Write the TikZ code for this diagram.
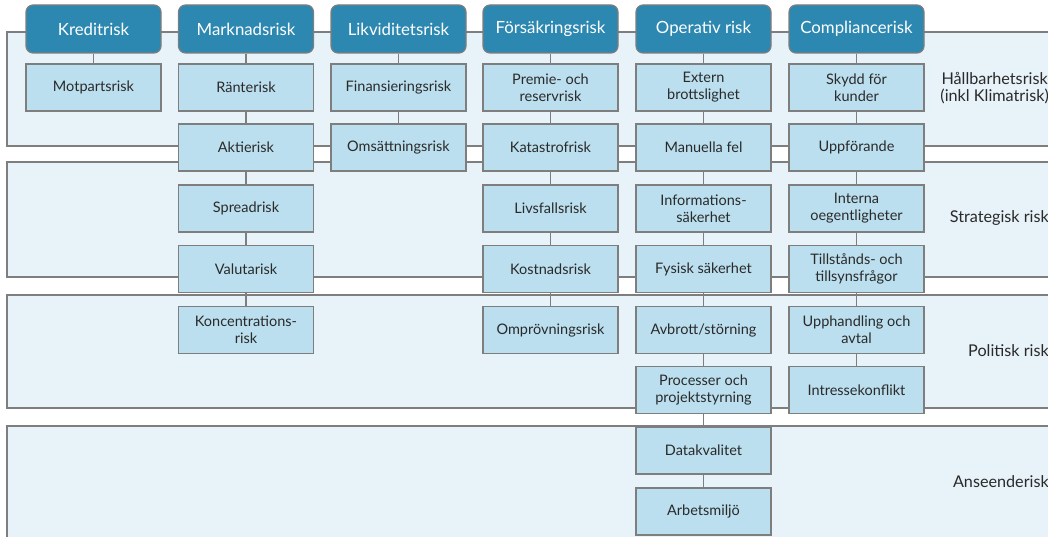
\documentclass[tikz,border=0pt]{standalone}
\usepackage{fontspec}
\setmainfont{Lato}
\definecolor{hdrfill}{HTML}{2C88B0}
\definecolor{boxfill}{HTML}{BBDFEE}
\definecolor{bandfill}{HTML}{E7F2F9}
\definecolor{linegray}{HTML}{7E7E7E}
\definecolor{txt}{HTML}{2A2A2A}
\begin{document}
\begin{tikzpicture}[x=1pt,y=-1pt,
  band/.style={draw=linegray,line width=1.3pt,fill=bandfill},
  hdr/.style={draw=linegray,line width=1.2pt,fill=hdrfill,rounded corners=7pt,minimum width=135pt,minimum height=48pt,text=white,font=\fontsize{16.8}{19}\selectfont,inner sep=0pt},
  sub/.style={draw=linegray,line width=1.2pt,fill=boxfill,minimum width=135pt,minimum height=47pt,text=txt,font=\fontsize{14.5}{16.8}\selectfont,align=center,inner sep=0pt},
  conn/.style={draw=linegray,line width=1.3pt},
  side/.style={anchor=east,text=txt,font=\fontsize{16.2}{17.5}\selectfont,align=center,inner sep=0pt}]
\useasboundingbox (0,0) rectangle (1048,537);
\clip (0,0) rectangle (1048,537);
% bands
\draw[band] (7,32) rectangle (1070,146);
\draw[band] (7,162) rectangle (1070,277);
\draw[band] (7,295) rectangle (1070,408);
\draw[band] (7,426) rectangle (1070,570);
% headers line
\draw[conn] (7,32) -- (1070,32);
% headers
\node[hdr] (h1) at (93.5,29) {Kreditrisk};
\node[hdr] (h2) at (246,29) {Marknadsrisk};
\node[hdr] (h3) at (398.5,29) {Likviditetsrisk};
\node[hdr] (h4) at (550.5,29) {Försäkringsrisk};
\node[hdr] (h5) at (703.5,29) {Operativ risk};
\node[hdr] (h6) at (856.5,29) {Compliancerisk};
% column 1
\node[sub] (a1) at (93.5,87.5) {Motpartsrisk};
% column 2
\node[sub] (b1) at (246,87.5) {Ränterisk};
\node[sub] (b2) at (246,147.5) {Aktierisk};
\node[sub] (b3) at (246,208.5) {Spreadrisk};
\node[sub] (b4) at (246,269) {Valutarisk};
\node[sub] (b5) at (246,330) {Koncentrations-\\risk};
% column 3
\node[sub] (c1) at (398.5,87.5) {Finansieringsrisk};
\node[sub] (c2) at (398.5,147.5) {Omsättningsrisk};
% column 4
\node[sub] (d1) at (550.5,87.5) {Premie- och\\reservrisk};
\node[sub] (d2) at (550.5,147.5) {Katastrofrisk};
\node[sub] (d3) at (550.5,208.5) {Livsfallsrisk};
\node[sub] (d4) at (550.5,269) {Kostnadsrisk};
\node[sub] (d5) at (550.5,330) {Omprövningsrisk};
% column 5
\node[sub] (e1) at (703.5,87.5) {Extern\\brottslighet};
\node[sub] (e2) at (703.5,147.5) {Manuella fel};
\node[sub] (e3) at (703.5,208.5) {Informations-\\säkerhet};
\node[sub] (e4) at (703.5,269) {Fysisk säkerhet};
\node[sub] (e5) at (703.5,330) {Avbrott/störning};
\node[sub] (e6) at (703.5,390) {Processer och\\projektstyrning};
\node[sub] (e7) at (703.5,450.5) {Datakvalitet};
\node[sub] (e8) at (703.5,511.5) {Arbetsmiljö};
% column 6
\node[sub] (f1) at (856.5,87.5) {Skydd för\\kunder};
\node[sub] (f2) at (856.5,147.5) {Uppförande};
\node[sub] (f3) at (856.5,208.5) {Interna\\oegentligheter};
\node[sub] (f4) at (856.5,269) {Tillstånds- och\\tillsynsfrågor};
\node[sub] (f5) at (856.5,330) {Upphandling och\\avtal};
\node[sub] (f6) at (856.5,390) {Intressekonflikt};
% connectors
\draw[conn] (h1.south) -- (a1.north);
\draw[conn] (h2.south) -- (b1.north);
\draw[conn] (b1.south) -- (b2.north);
\draw[conn] (b2.south) -- (b3.north);
\draw[conn] (b3.south) -- (b4.north);
\draw[conn] (b4.south) -- (b5.north);
\draw[conn] (h3.south) -- (c1.north);
\draw[conn] (c1.south) -- (c2.north);
\draw[conn] (h4.south) -- (d1.north);
\draw[conn] (d1.south) -- (d2.north);
\draw[conn] (d2.south) -- (d3.north);
\draw[conn] (d3.south) -- (d4.north);
\draw[conn] (d4.south) -- (d5.north);
\draw[conn] (h5.south) -- (e1.north);
\draw[conn] (e1.south) -- (e2.north);
\draw[conn] (e2.south) -- (e3.north);
\draw[conn] (e3.south) -- (e4.north);
\draw[conn] (e4.south) -- (e5.north);
\draw[conn] (e5.south) -- (e6.north);
\draw[conn] (e6.south) -- (e7.north);
\draw[conn] (e7.south) -- (e8.north);
\draw[conn] (h6.south) -- (f1.north);
\draw[conn] (f1.south) -- (f2.north);
\draw[conn] (f2.south) -- (f3.north);
\draw[conn] (f3.south) -- (f4.north);
\draw[conn] (f4.south) -- (f5.north);
\draw[conn] (f5.south) -- (f6.north);
% side labels
\node[side] (l1) at (1049,88) {Hållbarhetsrisk\\(inkl Klimatrisk)};
\node[side] (l2) at (1049,218) {Strategisk risk};
\node[side] (l3) at (1049,351) {Politisk risk};
\node[side] (l4) at (1049,482) {Anseenderisk};
\end{tikzpicture}
\end{document}
